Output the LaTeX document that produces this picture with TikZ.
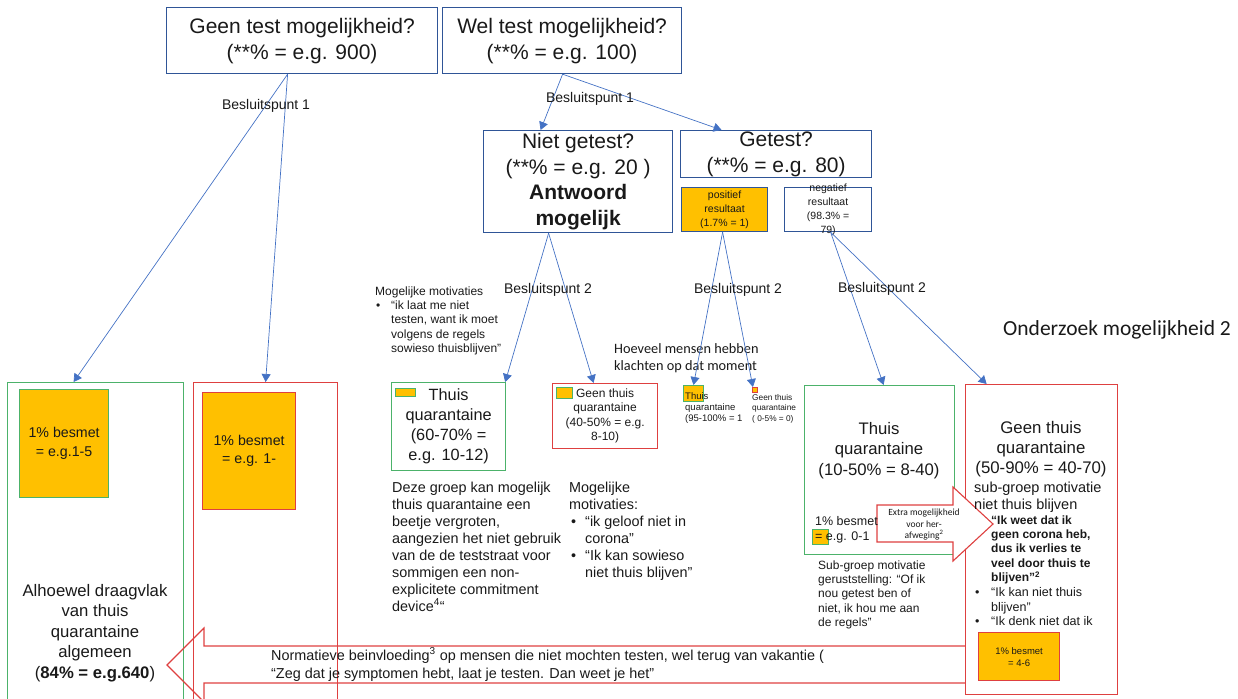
\documentclass[tikz,border=0pt]{standalone}
\usepackage{fontspec}
\setmainfont{Liberation Sans}
\newfontfamily\calib{Carlito}
\usetikzlibrary{arrows.meta}
\definecolor{boxblue}{RGB}{47,85,151}
\definecolor{lineblue}{RGB}{68,114,196}
\definecolor{grn}{RGB}{76,178,106}
\definecolor{rd}{RGB}{222,64,64}
\definecolor{org}{RGB}{255,192,0}
\definecolor{textc}{RGB}{25,25,25}
\newcommand{\fsz}[2]{\fontsize{#1}{#2}\selectfont}
\begin{document}
\begin{tikzpicture}[x=1pt,y=-1pt,
  bx/.style={draw=boxblue, line width=1.2pt, inner sep=0pt, anchor=north west, align=center, text=textc},
  gbox/.style={draw=grn, line width=1.2pt, inner sep=0pt, anchor=north west, align=center, text=textc},
  rbox/.style={draw=rd, line width=1.2pt, inner sep=0pt, anchor=north west, align=center, text=textc},
  conn/.style={draw=lineblue, line width=0.7pt, -{Triangle[length=8pt,width=9pt]}},
  txt/.style={inner sep=0pt, text=textc, align=left, anchor=north west},
  ctxt/.style={inner sep=0pt, text=textc, align=center, anchor=north},
  lbl/.style={inner sep=0pt, text=textc, font=\fsz{14}{16}},
  bigarrow/.style={draw=rd, line width=1.1pt, line join=miter},
]
\useasboundingbox (0,0) rectangle (1238,698);
\clip (0,0) rectangle (1238,698);

% ---------- top level ----------
\node[bx, minimum width=271pt, minimum height=66pt, font=\fsz{21}{26}] (geen) at (166,7) {Geen test mogelijkheid?\\(**\% = e.g. 900)};
\node[bx, minimum width=239pt, minimum height=66pt, font=\fsz{21}{26}] (wel) at (442,7) {Wel test mogelijkheid?\\(**\% = e.g. 100)};

\node[bx, minimum width=189pt, minimum height=102pt, font=\fsz{21}{25.5}] (niet) at (483,130) {Niet getest?\\(**\% = e.g. 20 )\\\textbf{Antwoord}\\\textbf{mogelijk}};
\node[bx, minimum width=191pt, minimum height=47pt, font=\fsz{21}{26}] (getest) at (680,130) {Getest?\\(**\% = e.g. 80)};

\node[bx, fill=org, minimum width=86pt, minimum height=44pt, font=\fsz{10.5}{14}] (pos) at (681,187) {positief\\resultaat\\(1.7\% = 1)};
\node[bx, minimum width=87pt, minimum height=44pt] (neg) at (784,187) {};
\node[inner sep=0pt, text=textc, align=center, font=\fsz{10.5}{14}] (negt) at (neg.center) {negatief\\resultaat\\(98.3\% =\\79)};

% ---------- left column boxes ----------
\node[gbox, minimum width=176pt, minimum height=330pt] (lg) at (7,382) {};
\node[rbox, minimum width=144pt, minimum height=330pt] (lr) at (193,382) {};
\node[gbox, fill=org, minimum width=89pt, minimum height=108pt, font=\fsz{14.2}{19}] (lgo) at (19,389) {1\% besmet\\= e.g.1-5};
\node[rbox, fill=org, minimum width=93pt, minimum height=117pt, font=\fsz{14.2}{18}] (lro) at (202,392) {1\% besmet\\= e.g. 1-};

% ---------- middle boxes ----------
\node[gbox, minimum width=114pt, minimum height=88pt, font=\fsz{16.3}{20}] (thq) at (391,382) {Thuis\\quarantaine\\(60-70\% =\\e.g. 10-12)};
\node[gbox, fill=org, minimum width=20pt, minimum height=8pt] (thqo) at (395,388) {};
\node[rbox, minimum width=105pt, minimum height=65pt, font=\fsz{12}{14.5}] (gtq) at (552,383) {Geen thuis\\quarantaine\\(40-50\% = e.g.\\8-10)};
\node[gbox, fill=org, minimum width=16pt, minimum height=11pt] (gtqo) at (556,387) {};

\node[gbox, fill=org, minimum width=20pt, minimum height=16pt, line width=1pt] (sth) at (683,385) {};
\node[rbox, fill=org, minimum width=5pt, minimum height=4.5pt, line width=0.8pt] (sgn) at (752,387) {};
\node[txt, font=\fsz{9.5}{11}] (stht) at (685,391.6) {\strut Thuis\\quarantaine\\(95-100\% = 1};
\node[txt, font=\fsz{8.3}{10.8}] (sgnt) at (752,392.3) {\strut Geen thuis\\quarantaine\\( 0-5\% = 0)};

% ---------- right boxes ----------
\node[gbox, minimum width=150pt, minimum height=169pt] (bgq) at (804,385) {};
\node[rbox, minimum width=152pt, minimum height=310pt] (brq) at (965,384) {};

% ---------- big left arrow ----------
\draw[bigarrow] (965,646) -- (204,646) -- (204,628) -- (167,665) -- (204,702) -- (204,683) -- (965,683);

% ---------- extra arrow ----------
\draw[bigarrow, fill=white] (877,505) -- (953,505) -- (953,487) -- (993,524) -- (953,561) -- (953,542) -- (877,542) -- cycle;
\node[ctxt, font=\calib\fsz{9.5}{11.5}] (extra) at (924,507.3) {\strut Extra mogelijkheid\\voor her-\\afweging\textsuperscript{2}};

% ---------- texts ----------
\node[ctxt, font=\fsz{16.7}{20.5}] (alh) at (95,581.5) {\strut Alhoewel draagvlak\\van thuis\\quarantaine\\algemeen\\(\textbf{84\% = e.g.640})};
\node[txt, font=\fsz{14.4}{18}] (norm) at (271,647.4) {\strut Normatieve beinvloeding\textsuperscript{3} op mensen die niet mochten testen, wel terug van vakantie (\\“Zeg dat je symptomen hebt, laat je testen. Dan weet je het”};

\node[txt, font=\fsz{12}{14.5}] (mm1) at (375,285) {\strut Mogelijke motivaties};
\node[txt, font=\fsz{12}{14.5}] (mm1b) at (376,299) {\strut •};
\node[txt, font=\fsz{12}{14.5}] (mm1t) at (391,299) {\strut “ik laat me niet\\testen, want ik moet\\volgens de regels\\sowieso thuisblijven”};

\node[txt, font=\calib\fsz{14.3}{17.5}] (hoev) at (614,340.8) {\strut Hoeveel mensen hebben\\klachten op dat moment};
\node[inner sep=0pt, anchor=west, text=textc, font=\calib\fsz{21.5}{25}] (ond) at (1003,330) {Onderzoek mogelijkheid 2};

\node[txt, font=\fsz{14.4}{17}] (deze) at (392,480.1) {\strut Deze groep kan mogelijk\\thuis quarantaine een\\beetje vergroten,\\aangezien het niet gebruik\\van de de teststraat voor\\sommigen een non-\\explicitete commitment\\device\textsuperscript{4}“};
\node[txt, font=\fsz{14.4}{17}] (mm2) at (569,480.1) {\strut Mogelijke\\motivaties:};
\node[txt, font=\fsz{14.4}{17}] (mm2b1) at (571,514.1) {\strut •};
\node[txt, font=\fsz{14.4}{17}] (mm2t1) at (585,514.1) {\strut “ik geloof niet in\\corona”};
\node[txt, font=\fsz{14.4}{17}] (mm2b2) at (571,548.1) {\strut •};
\node[txt, font=\fsz{14.4}{17}] (mm2t2) at (585,548.1) {\strut “Ik kan sowieso\\niet thuis blijven”};

% right green box texts
\node[ctxt, font=\fsz{16.7}{20.5}] (bgqt) at (879,419.5) {\strut Thuis\\quarantaine\\(10-50\% = 8-40)};
\node[gbox, fill=org, minimum width=16pt, minimum height=15pt, line width=1pt] (bgqo) at (812,529) {};
\node[txt, font=\fsz{12.5}{15}] (bgqb) at (815,515) {\strut 1\% besmet\\= e.g. 0-1};
\node[txt, font=\fsz{12}{14.25}] (subg) at (818,559.2) {\strut Sub-groep motivatie\\geruststelling: “Of ik\\nou getest ben of\\niet, ik hou me aan\\de regels”};

% right red box texts
\node[ctxt, font=\fsz{16.8}{20.3}] (brqt) at (1041,418.7) {\strut Geen thuis\\quarantaine\\(50-90\% = 40-70)};
\node[txt, font=\fsz{14.5}{17}] (brqs) at (974,480.2) {\strut sub-groep motivatie\\niet thuis blijven};
\node[txt, font=\bfseries\fsz{12}{14.25}] (brqb) at (991,514.2) {\strut “Ik weet dat ik\\geen corona heb,\\dus ik verlies te\\veel door thuis te\\blijven”\textsuperscript{2}};
\node[txt, font=\fsz{12.5}{14.5}] (brb1) at (975,586.2) {\strut •};
\node[txt, font=\fsz{12.5}{14.5}] (brt1) at (991,586.2) {\strut “Ik kan niet thuis\\blijven”};
\node[txt, font=\fsz{12.5}{14.5}] (brb2) at (975,615.2) {\strut •};
\node[txt, font=\fsz{12.5}{14.5}] (brt2) at (991,615.2) {\strut “Ik denk niet dat ik};
\node[rbox, fill=org, minimum width=81pt, minimum height=48pt, font=\fsz{9.5}{12}] (bro) at (978,632) {1\% besmet\\= 4-6};

% ---------- connectors ----------
\draw[conn] ([xshift=-14.5pt]geen.south) -- ([xshift=-22pt]lg.north);
\draw[conn] ([xshift=-14.5pt]geen.south) -- (lr.north);
\draw[conn] ([xshift=0.5pt]wel.south) -- ([xshift=-37.5pt]niet.north);
\draw[conn] ([xshift=0.5pt]wel.south) -- ([xshift=-54.5pt]getest.north);
\draw[conn] ([xshift=-29.5pt]niet.south) -- ([xshift=-1pt]thq.north east);
\draw[conn] ([xshift=-29.5pt]niet.south) -- ([xshift=-11.5pt]gtq.north);
\draw[conn] ([xshift=-2pt]pos.south) -- (sth.north);
\draw[conn] ([xshift=-2pt]pos.south) -- ([xshift=-2pt]sgn.north);
\draw[conn] ([xshift=2.5pt]neg.south) -- ([xshift=4pt]bgq.north);
\draw[conn] ([xshift=2.5pt]neg.south) -- ([xshift=-55pt]brq.north);

% ---------- labels ----------
\node[lbl] (b1a) at (266,106) {Besluitspunt 1};
\node[lbl] (b1b) at (590,99) {Besluitspunt 1};
\node[lbl] (b2a) at (548,290) {Besluitspunt 2};
\node[lbl] (b2b) at (738,290) {Besluitspunt 2};
\node[lbl] (b2c) at (882,289) {Besluitspunt 2};
\end{tikzpicture}
\end{document}
